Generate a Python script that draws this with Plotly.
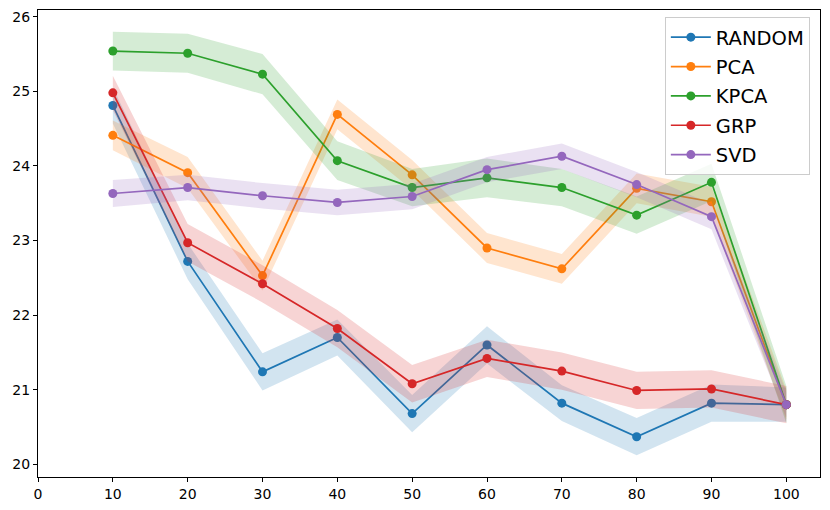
import plotly.graph_objects as go

x_vals = [10, 20, 30, 40, 50, 60, 70, 80, 90, 100]

series_names = ["RANDOM", "PCA", "KPCA", "GRP", "SVD"]
random_mean = [24.81, 22.72, 21.24, 21.70, 20.68, 21.60, 20.82, 20.37, 20.82, 20.80]
pca_mean = [24.41, 23.91, 22.53, 24.69, 23.88, 22.90, 22.62, 23.70, 23.52, 20.80]
kpca_mean = [25.54, 25.51, 25.23, 24.07, 23.71, 23.84, 23.71, 23.34, 23.78, 20.80]
grp_mean = [24.98, 22.97, 22.42, 21.82, 21.08, 21.42, 21.25, 20.99, 21.01, 20.80]
svd_mean = [23.63, 23.71, 23.60, 23.51, 23.59, 23.95, 24.13, 23.75, 23.32, 20.80]

random_std = [0.24, 0.24, 0.25, 0.24, 0.25, 0.25, 0.24, 0.25, 0.25, 0.23]
pca_std = [0.20, 0.21, 0.20, 0.20, 0.20, 0.20, 0.20, 0.20, 0.20, 0.20]
kpca_std = [0.26, 0.26, 0.27, 0.26, 0.25, 0.26, 0.25, 0.25, 0.25, 0.25]
grp_std = [0.23, 0.25, 0.25, 0.25, 0.25, 0.25, 0.25, 0.25, 0.25, 0.25]
svd_std = [0.18, 0.17, 0.17, 0.17, 0.17, 0.17, 0.17, 0.17, 0.17, 0.17]

colors = ["#1f77b4", "#ff7f0e", "#2ca02c", "#d62728", "#9467bd"]
fills = ["rgba(31,119,180,0.2)", "rgba(255,127,14,0.2)", "rgba(44,160,44,0.2)",
         "rgba(214,39,40,0.2)", "rgba(148,103,189,0.2)"]

means = [random_mean, pca_mean, kpca_mean, grp_mean, svd_mean]
stds = [random_std, pca_std, kpca_std, grp_std, svd_std]

fig = go.Figure()
for name, m, s, c, f in zip(series_names, means, stds, colors, fills):
    fig.add_trace(go.Scatter(
        x=x_vals, y=m, mode="lines+markers", name=name, legendgroup=name,
        line=dict(color=c, width=1.7), marker=dict(color=c, size=9),
        hoverinfo="skip"))
    upper = [a + b for a, b in zip(m, s)]
    lower = [a - b for a, b in zip(m, s)]
    fig.add_trace(go.Scatter(
        x=x_vals + x_vals[::-1], y=upper + lower[::-1], legendgroup=name,
        fill="toself", fillcolor=f, line=dict(width=0, color="rgba(0,0,0,0)"),
        mode="lines", showlegend=False, hoverinfo="skip"))

axis_common = dict(
    showgrid=False, zeroline=False, showline=True, mirror=True,
    linecolor="black", linewidth=1, ticks="outside", ticklen=4,
    tickwidth=1, tickcolor="black", automargin=False,
    tickfont=dict(family="DejaVu Sans", size=14, color="black"),
)

fig.update_layout(
    width=830, height=510,
    margin=dict(l=30, r=18, t=2, b=41),
    plot_bgcolor="white", paper_bgcolor="white",
    xaxis=dict(range=[0, 104.5], tickvals=[0, 10, 20, 30, 40, 50, 60, 70, 80, 90, 100], **axis_common),
    yaxis=dict(range=[19.83, 26.09], tickvals=[20, 21, 22, 23, 24, 25, 26], **axis_common),
    legend=dict(
        x=0.987, y=0.985, xanchor="right", yanchor="top",
        bgcolor="rgba(255,255,255,0.8)", bordercolor="#cccccc", borderwidth=1,
        font=dict(family="DejaVu Sans", size=19.5, color="black"),
        itemwidth=40, tracegroupgap=1,
    ),
    showlegend=True,
)

fig.write_html("out.html")
